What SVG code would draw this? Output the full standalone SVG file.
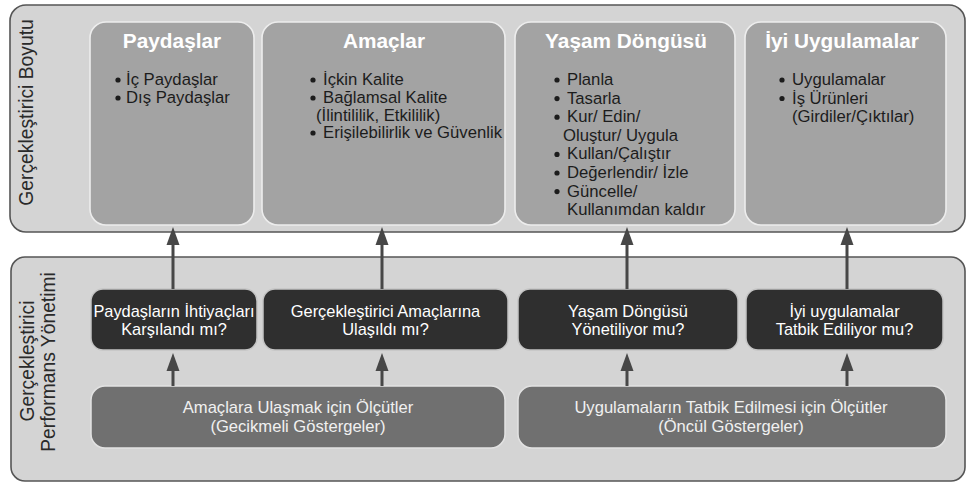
<svg xmlns="http://www.w3.org/2000/svg" width="968" height="484" viewBox="0 0 968 484">
  <defs>
    <style>
      text { font-family: "Liberation Sans", Arial, sans-serif; }
      .frame { fill: #d4d4d4; stroke: #555555; stroke-width: 1.6; }
      .pillar { fill: #a3a3a3; stroke: #ededed; stroke-width: 1.6; }
      .question { fill: #2f2f2f; stroke: #c4c4c4; stroke-width: 1.5; }
      .measure { fill: #707070; stroke: #e2e2e2; stroke-width: 1.5; }
      .side { font-size: 19.3px; fill: #2a2a2a; }
      .title { font-size: 20.8px; font-weight: bold; fill: #ffffff; text-anchor: middle; }
      .item { font-size: 16.7px; fill: #1c1c1c; }
      .dot { fill: #1c1c1c; }
      .qtext { font-size: 16.4px; fill: #ffffff; text-anchor: middle; }
      .mtext { font-size: 16.6px; fill: #f0f0f0; text-anchor: middle; }
      .link { stroke: #474747; stroke-width: 3; fill: none; }
      .head { fill: #474747; }
    </style>
  </defs>

  <!-- upper band: enabler dimension -->
  <g id="enabler-dimension">
    <rect class="frame" x="10" y="5" width="955" height="227" rx="16"/>
    <text class="side" transform="translate(33 112.5) rotate(-90)" text-anchor="middle">Gerçekleştirici Boyutu</text>
  </g>

  <!-- lower band: enabler performance management -->
  <g id="performance-management">
    <rect class="frame" x="11" y="257" width="954" height="224" rx="14"/>
    <text class="side" transform="translate(34 361) rotate(-90)" text-anchor="middle">Gerçekleştirici</text>
    <text class="side" transform="translate(55 362) rotate(-90)" text-anchor="middle">Performans Yönetimi</text>
  </g>

  <g id="paydaslar">
    <rect class="pillar" x="90" y="22" width="164" height="203" rx="16"/>
    <text class="title" x="172" y="48">Paydaşlar</text>
    <circle class="dot" cx="118" cy="80" r="2.6"/>
    <text class="item" x="126" y="85">İç Paydaşlar</text>
    <circle class="dot" cx="118" cy="98" r="2.6"/>
    <text class="item" x="126" y="103">Dış Paydaşlar</text>
  </g>

  <g id="amaclar">
    <rect class="pillar" x="262" y="22" width="243" height="203" rx="16"/>
    <text class="title" x="384" y="48">Amaçlar</text>
    <circle class="dot" cx="313" cy="80" r="2.6"/>
    <text class="item" x="323" y="85">İçkin Kalite</text>
    <circle class="dot" cx="313" cy="98" r="2.6"/>
    <text class="item" x="323" y="103">Bağlamsal Kalite</text>
    <text class="item" x="316" y="120.5">(İlintililik, Etkililik)</text>
    <circle class="dot" cx="313" cy="133" r="2.6"/>
    <text class="item" x="323" y="138">Erişilebilirlik ve Güvenlik</text>
  </g>

  <g id="yasam-dongusu">
    <rect class="pillar" x="515" y="22" width="220" height="203" rx="16"/>
    <text class="title" x="626" y="48">Yaşam Döngüsü</text>
    <circle class="dot" cx="557" cy="80" r="2.6"/>
    <text class="item" x="567" y="85">Planla</text>
    <circle class="dot" cx="557" cy="98.6" r="2.6"/>
    <text class="item" x="567" y="103.6">Tasarla</text>
    <circle class="dot" cx="557" cy="117.2" r="2.6"/>
    <text class="item" x="567" y="122.2">Kur/ Edin/</text>
    <text class="item" x="563" y="140.8">Oluştur/ Uygula</text>
    <circle class="dot" cx="557" cy="154.4" r="2.6"/>
    <text class="item" x="567" y="159.4">Kullan/Çalıştır</text>
    <circle class="dot" cx="557" cy="173" r="2.6"/>
    <text class="item" x="567" y="178">Değerlendir/ İzle</text>
    <circle class="dot" cx="557" cy="191.6" r="2.6"/>
    <text class="item" x="567" y="196.6">Güncelle/</text>
    <text class="item" x="567" y="215.2">Kullanımdan kaldır</text>
  </g>

  <g id="iyi-uygulamalar">
    <rect class="pillar" x="745" y="22" width="201" height="203" rx="16"/>
    <text class="title" x="842" y="48">İyi Uygulamalar</text>
    <circle class="dot" cx="782" cy="80" r="2.6"/>
    <text class="item" x="792" y="85">Uygulamalar</text>
    <circle class="dot" cx="782" cy="98.5" r="2.6"/>
    <text class="item" x="792" y="103.5">İş Ürünleri</text>
    <text class="item" x="792" y="122">(Girdiler/Çıktılar)</text>
  </g>

  <g id="q-paydas">
    <rect class="question" x="91" y="289" width="166" height="61" rx="12"/>
    <text class="qtext" x="174" y="317">Paydaşların İhtiyaçları</text>
    <text class="qtext" x="174" y="335">Karşılandı mı?</text>
  </g>

  <g id="q-amac">
    <rect class="question" x="263" y="289" width="245" height="61" rx="12"/>
    <text class="qtext" x="385.5" y="317">Gerçekleştirici Amaçlarına</text>
    <text class="qtext" x="385.5" y="335">Ulaşıldı mı?</text>
  </g>

  <g id="q-yasam">
    <rect class="question" x="518" y="289" width="220" height="61" rx="12"/>
    <text class="qtext" x="628" y="317">Yaşam Döngüsü</text>
    <text class="qtext" x="628" y="335">Yönetiliyor mu?</text>
  </g>

  <g id="q-uygulama">
    <rect class="question" x="746" y="289" width="197" height="61" rx="12"/>
    <text class="qtext" x="844.5" y="317">İyi uygulamalar</text>
    <text class="qtext" x="844.5" y="335">Tatbik Ediliyor mu?</text>
  </g>

  <g id="m-gecikmeli">
    <rect class="measure" x="91" y="386" width="414" height="62" rx="14"/>
    <text class="mtext" x="298" y="413">Amaçlara Ulaşmak için Ölçütler</text>
    <text class="mtext" x="298" y="432">(Gecikmeli Göstergeler)</text>
  </g>

  <g id="m-oncul">
    <rect class="measure" x="518" y="386" width="428" height="62" rx="14"/>
    <text class="mtext" x="731" y="413">Uygulamaların Tatbik Edilmesi için Ölçütler</text>
    <text class="mtext" x="731" y="432">(Öncül Göstergeler)</text>
  </g>

  <!-- connectors -->
  <g id="connectors">
    <line class="link" x1="173" y1="289" x2="173" y2="240"/>
    <polygon class="head" points="173,227 166.5,245 179.5,245"/>
    <line class="link" x1="382" y1="289" x2="382" y2="240"/>
    <polygon class="head" points="382,227 375.5,245 388.5,245"/>
    <line class="link" x1="627" y1="289" x2="627" y2="240"/>
    <polygon class="head" points="627,227 620.5,245 633.5,245"/>
    <line class="link" x1="847" y1="289" x2="847" y2="240"/>
    <polygon class="head" points="847,227 840.5,245 853.5,245"/>

    <line class="link" x1="173" y1="386" x2="173" y2="366"/>
    <polygon class="head" points="173,353 166.5,371 179.5,371"/>
    <line class="link" x1="382" y1="386" x2="382" y2="366"/>
    <polygon class="head" points="382,353 375.5,371 388.5,371"/>
    <line class="link" x1="627" y1="386" x2="627" y2="366"/>
    <polygon class="head" points="627,353 620.5,371 633.5,371"/>
    <line class="link" x1="847" y1="386" x2="847" y2="366"/>
    <polygon class="head" points="847,353 840.5,371 853.5,371"/>
  </g>
</svg>
